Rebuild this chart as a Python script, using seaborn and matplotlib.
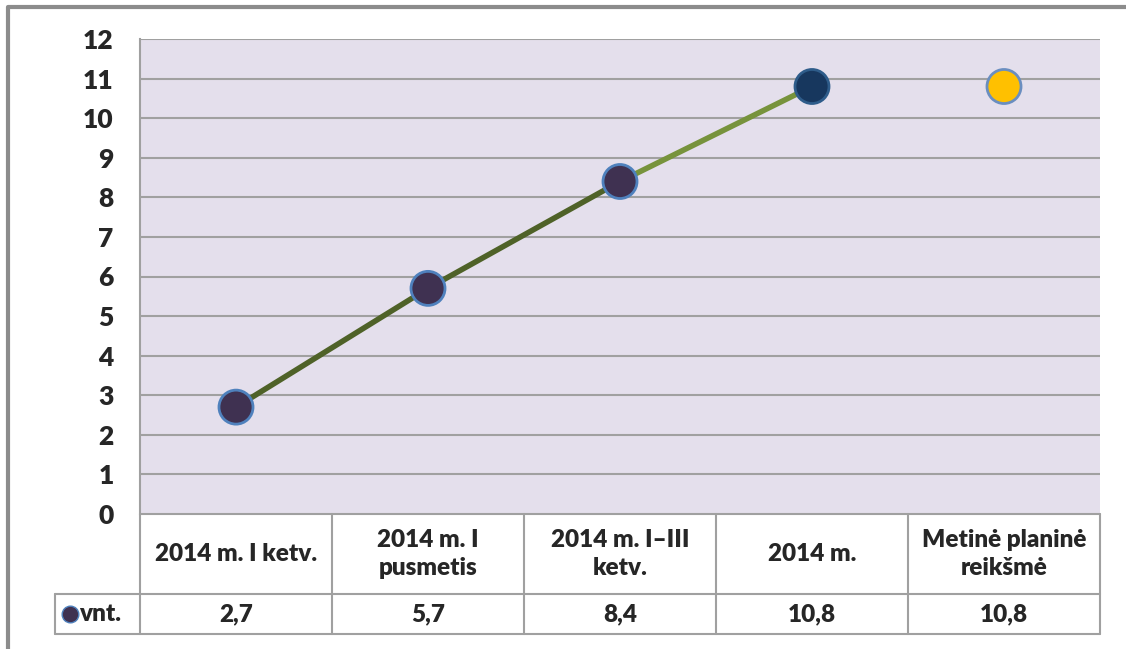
import numpy as np
import pandas as pd
import matplotlib.pyplot as plt
import seaborn as sns
from matplotlib.lines import Line2D

sns.set_style("white")
plt.rcParams['font.family'] = ['Lato', 'DejaVu Sans']

# data
categories = ['2014 m. I ketv.', '2014 m. I\npusmetis', '2014 m. I–III\nketv.', '2014 m.', 'Metinė planinė\nreikšmė']
values = [2.7, 5.7, 8.4, 10.8, 10.8]
value_labels = ['2,7', '5,7', '8,4', '10,8', '10,8']
series_name = 'vnt.'
yticks = list(range(0, 13))

W, H = 1126, 649
fig = plt.figure(figsize=(W / 100, H / 100), dpi=100)

# pixel -> figure coords helpers
def fx(px):
    return px / W
def fy(py):
    return 1 - py / H

left, right, top, bottom = 140, 1100, 39, 514
ax = fig.add_axes([fx(left), fy(bottom), fx(right) - fx(left), fy(top) - fy(bottom)])
ax.set_facecolor('#E4DFEC')

df = pd.DataFrame({'x': np.arange(len(categories)), 'y': values, 'cat': categories})

grid_col = '#A0A0A0'
for t in yticks[1:]:
    ax.axhline(t, color=grid_col, lw=1.5, zorder=1)

# line segments: first part dark olive, last part lighter green
sns.lineplot(data=df.iloc[0:3], x='x', y='y', ax=ax, color='#4F6228', lw=4, zorder=2)
sns.lineplot(data=df.iloc[2:4], x='x', y='y', ax=ax, color='#77933C', lw=4, zorder=2)

face_cols = ['#3F3151', '#3F3151', '#3F3151', '#17375E', '#FFC000']
edge_cols = ['#4F81BD', '#4F81BD', '#4F81BD', '#2E5C8A', '#6A8EC0']
sns.scatterplot(data=df, x='x', y='y', ax=ax, s=600, c=face_cols, edgecolor=edge_cols,
                linewidth=2, zorder=3, legend=False)

ax.set_xlim(-0.5, len(categories) - 0.5)
ax.set_ylim(0, 12)
ax.set_yticks(yticks)
ax.set_xticks([])
ax.set_xlabel('')
ax.set_ylabel('')
ax.tick_params(axis='y', length=0, pad=19, labelsize=19)
for lab in ax.get_yticklabels():
    lab.set_fontweight('heavy')
for side in ['top', 'right', 'bottom']:
    ax.spines[side].set_visible(False)
ax.spines['left'].set_color(grid_col)
ax.spines['left'].set_linewidth(1.5)

# data table under the chart
col_edges = np.linspace(left, right, len(categories) + 1)
row1_bot, row2_bot = 594, 634
lines = []
lines.append(([left, right], [bottom, bottom]))
lines.append(([55, right], [row1_bot, row1_bot]))
lines.append(([55, right], [row2_bot, row2_bot]))
lines.append(([55, 55], [row1_bot, row2_bot]))
for e in col_edges:
    lines.append(([e, e], [bottom, row2_bot]))
for xs, ys in lines:
    fig.add_artist(Line2D([fx(v) for v in xs], [fy(v) for v in ys], color=grid_col, lw=1.5))

for i, (cat, val) in enumerate(zip(categories, value_labels)):
    cx = (col_edges[i] + col_edges[i + 1]) / 2
    fig.text(fx(cx), fy((bottom + row1_bot) / 2), cat, ha='center', va='center',
             fontsize=17.5, fontweight='heavy', linespacing=1.35)
    fig.text(fx(cx), fy((row1_bot + row2_bot) / 2), val, ha='center', va='center',
             fontsize=17.5, fontweight='heavy')

fig.add_artist(Line2D([fx(70)], [fy(614)], marker='o', markersize=12, color='#3F3151',
                      markeredgecolor='#4F81BD', markeredgewidth=1))
fig.text(fx(79), fy(614), series_name, ha='left', va='center', fontsize=17.5, fontweight='heavy')

# outer chart frame
fig.add_artist(Line2D([fx(8), fx(8), fx(1126)], [fy(H), fy(7), fy(7)], color='#8C8C8C', lw=3))

fig.savefig('out.png', dpi=100)
